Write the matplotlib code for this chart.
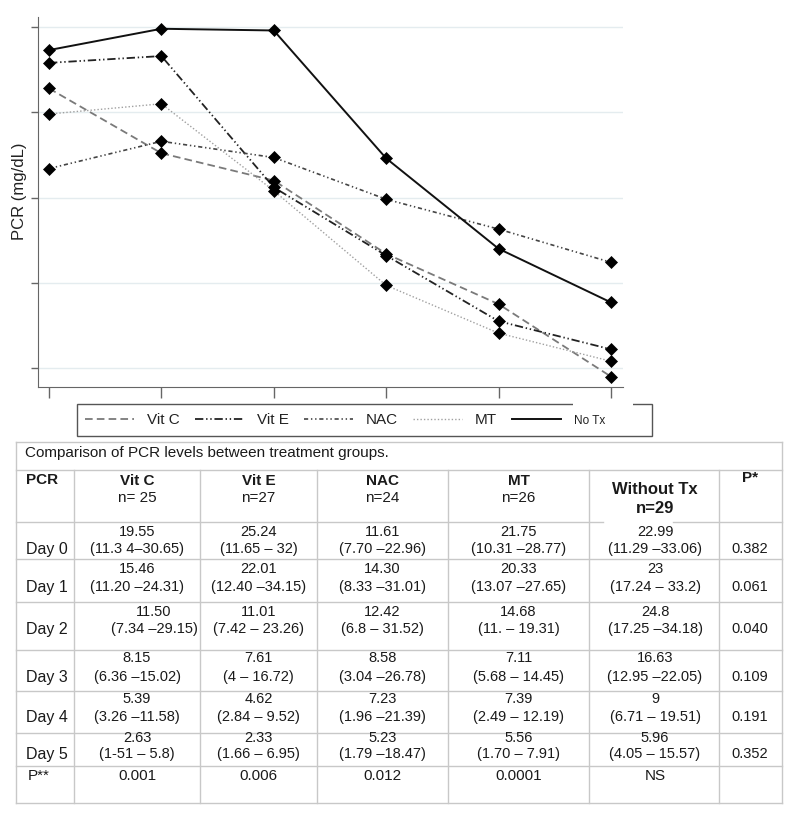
import matplotlib
matplotlib.use('Agg')
import matplotlib.pyplot as plt
from matplotlib.patches import Rectangle

plt.rcParams['font.family'] = ['Liberation Sans', 'DejaVu Sans']
plt.rcParams['lines.scale_dashes'] = False

# ---- curve values (the y axis carries no numbers) ----
days = [0, 1, 2, 3, 4, 5]
vit_c_curve = [16.4, 12.6, 11.0, 6.7, 3.75, -0.5]
vit_e_curve = [17.9, 18.3, 10.6, 6.6, 2.75, 1.1]
nac_curve = [11.7, 13.3, 12.35, 9.9, 8.15, 6.2]
mt_curve = [14.9, 15.5, 10.4, 4.85, 2.05, 0.4]
no_tx_curve = [18.65, 19.9, 19.8, 12.3, 7.0, 3.85]
legend_names = ['Vit C', 'Vit E', 'NAC', 'MT', 'No Tx']

# ---- table ----
day_labels = ['Day 0', 'Day 1', 'Day 2', 'Day 3', 'Day 4', 'Day 5']
group_names = ['Vit C', 'Vit E', 'NAC', 'MT', 'Without Tx']
group_n = ['n= 25', 'n=27', 'n=24', 'n=26', 'n=29']
vit_c_med = ['19.55', '15.46', '11.50', '8.15', '5.39', '2.63']
vit_c_rng = ['(11.3 4–30.65)', '(11.20 –24.31)', '(7.34 –29.15)',
             '(6.36 –15.02)', '(3.26 –11.58)', '(1-51 – 5.8)']
vit_e_med = ['25.24', '22.01', '11.01', '7.61', '4.62', '2.33']
vit_e_rng = ['(11.65 – 32)', '(12.40 –34.15)', '(7.42 – 23.26)',
             '(4 – 16.72)', '(2.84 – 9.52)', '(1.66 – 6.95)']
nac_med = ['11.61', '14.30', '12.42', '8.58', '7.23', '5.23']
nac_rng = ['(7.70 –22.96)', '(8.33 –31.01)', '(6.8 – 31.52)',
           '(3.04 –26.78)', '(1.96 –21.39)', '(1.79 –18.47)']
mt_med = ['21.75', '20.33', '14.68', '7.11', '7.39', '5.56']
mt_rng = ['(10.31 –28.77)', '(13.07 –27.65)', '(11. – 19.31)',
          '(5.68 – 14.45)', '(2.49 – 12.19)', '(1.70 – 7.91)']
no_tx_med = ['22.99', '23', '24.8', '16.63', '9', '5.96']
no_tx_rng = ['(11.29 –33.06)', '(17.24 – 33.2)', '(17.25 –34.18)',
             '(12.95 –22.05)', '(6.71 – 19.51)', '(4.05 – 15.57)']
p_between = ['0.382', '0.061', '0.040', '0.109', '0.191', '0.352']
p_within = ['0.001', '0.006', '0.012', '0.0001', 'NS']

W, H = 793, 813
fig = plt.figure(figsize=(W / 100, H / 100), dpi=100)

# ================= line chart =================
ax = fig.add_axes([38 / W, 1 - 387 / H, 585 / W, 370 / H])
curves = [vit_c_curve, vit_e_curve, nac_curve, mt_curve, no_tx_curve]
styles = [
    dict(color='#7a7a7a', linestyle=(0, (5.5, 3)), lw=1.3),
    dict(color='#222222', linestyle=(0, (6, 2, 1, 2, 1, 2)), lw=1.3),
    dict(color='#444444', linestyle=(0, (3, 2, 1, 2, 1, 2)), lw=1.2),
    dict(color='#a0a0a0', linestyle=(0, (1, 1.5)), lw=1.0),
    dict(color='#111111', linestyle='-', lw=1.4),
]
handles = []
for vals, name, st in zip(curves, legend_names, styles):
    h, = ax.plot(days, vals, label=name, **st)
    handles.append(h)
for vals in curves:
    ax.plot(days, vals, linestyle='none', marker='D', ms=5.8, mfc='black',
            mec='black', mew=0.5, zorder=5)

ax.set_xlim(-0.098, 5.107)
ax.set_ylim(-1.11, 20.59)
ax.set_xticks(days)
ax.set_yticks([0, 5, 10, 15, 20])
ax.tick_params(labelleft=False, labelbottom=False, color='#666666')
ax.tick_params(axis='x', length=8, width=1)
ax.tick_params(axis='y', length=5, width=1)
ax.grid(axis='y', color='#e4ecef', lw=1)
ax.set_axisbelow(True)
for s in ['top', 'right']:
    ax.spines[s].set_visible(False)
for s in ['left', 'bottom']:
    ax.spines[s].set_color('#666666')
ax.set_ylabel('PCR (mg/dL)', fontsize=12, color='#222222')
ax.yaxis.set_label_coords(-0.018, 0.53)

leg = ax.legend(handles=handles, ncol=5, loc='center left',
                bbox_to_anchor=(85 / W, 1 - 420 / H),
                bbox_transform=fig.transFigure, frameon=False,
                fontsize=11, borderpad=0, borderaxespad=0,
                handlelength=3.2, handletextpad=0.85, columnspacing=1.0)
for t in leg.get_texts():
    t.set_color('#222222')
leg.get_texts()[-1].set_fontsize(8.5)

# ================= overlay in pixel coords for frame + table =================
ov = fig.add_axes([0, 0, 1, 1])
ov.set_xlim(0, W)
ov.set_ylim(H, 0)
ov.axis('off')

# legend frame (top edge partly hidden as in the source)
ov.add_patch(Rectangle((77, 404), 575, 32, fill=False, ec='#555555', lw=1))
ov.add_patch(Rectangle((573, 401), 60, 5, fc='white', ec='none'))

line_c = '#c8c8c8'
left, right = 16, 782
row_lines = [442, 470, 522, 559, 602, 650, 691, 733, 766, 803]
col_lines = [74, 200, 317, 448, 589, 719]
for y in row_lines:
    if y == 522:
        ov.plot([left, 603], [y, y], color=line_c, lw=1)
        ov.plot([673, right], [y, y], color=line_c, lw=1)
    else:
        ov.plot([left, right], [y, y], color=line_c, lw=1)
for x in [left, right]:
    ov.plot([x, x], [442, 803], color=line_c, lw=1)
for x in col_lines:
    ov.plot([x, x], [470, 803], color=line_c, lw=1)

tc = '#1a1a1a'
ov.text(25, 453, 'Comparison of PCR levels between treatment groups.',
        fontsize=11, color=tc, ha='left', va='center')

col_x = [137, 258.5, 382.5, 518.5, 655]
p_x = 750
ov.text(26, 480, 'PCR', fontsize=11, fontweight='bold', color=tc,
        ha='left', va='center')
ov.text(p_x, 478, 'P*', fontsize=11, fontweight='bold', color=tc,
        ha='center', va='center')
for i, (g, n) in enumerate(zip(group_names, group_n)):
    if i < 4:
        ov.text(col_x[i], 481, g, fontsize=11, fontweight='bold',
                color=tc, ha='center', va='center')
        ov.text(col_x[i], 498, n, fontsize=11, color=tc,
                ha='center', va='center')
    else:
        ov.text(col_x[i], 489, g, fontsize=12, fontweight='bold',
                color=tc, ha='center', va='center')
        ov.text(col_x[i], 508, n, fontsize=12, fontweight='bold',
                color=tc, ha='center', va='center')

med_y = [532, 569, 612, 658, 699, 738]
rng_y = [549, 587, 629, 677, 717, 754]
meds = [vit_c_med, vit_e_med, nac_med, mt_med, no_tx_med]
rngs = [vit_c_rng, vit_e_rng, nac_rng, mt_rng, no_tx_rng]
shift = {(2, 0): 17}  # Vit C, Day 2 sits off-centre in the source
for r, day in enumerate(day_labels):
    ov.text(26, rng_y[r], day, fontsize=11.5, color=tc,
            ha='left', va='center')
    for c in range(5):
        dx = shift.get((r, c), 0)
        ov.text(col_x[c] + dx, med_y[r], meds[c][r], fontsize=10.5,
                color=tc, ha='center', va='center')
        ov.text(col_x[c] + dx, rng_y[r], rngs[c][r], fontsize=10.5,
                color=tc, ha='center', va='center')
    ov.text(p_x, rng_y[r], p_between[r], fontsize=10.5, color=tc,
            ha='center', va='center')

ov.text(28, 776, 'P**', fontsize=11, color=tc, ha='left', va='center')
for c, p in enumerate(p_within):
    ov.text(col_x[c], 776, p, fontsize=11, color=tc,
            ha='center', va='center')

fig.savefig('out.png', dpi=100)
